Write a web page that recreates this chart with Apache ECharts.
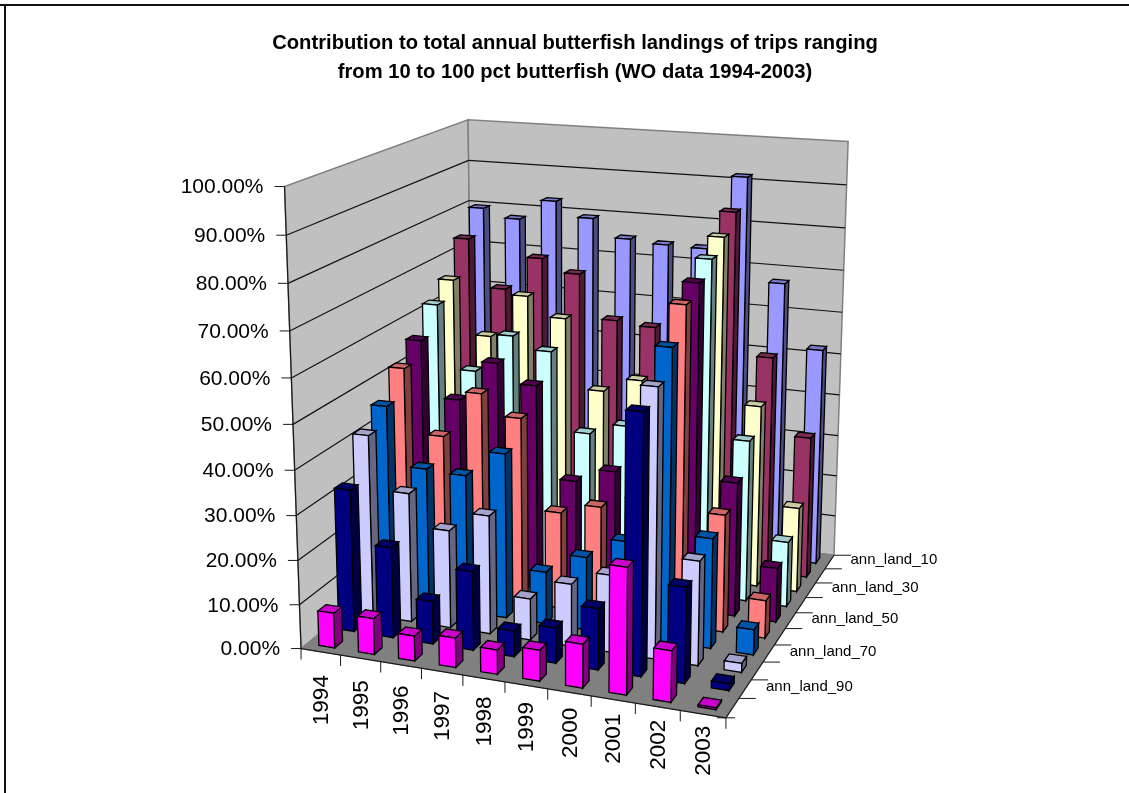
<!DOCTYPE html>
<html><head><meta charset="utf-8">
<style>html,body{margin:0;padding:0;background:#fff}#c{width:1129px;height:793px}</style>
<script src="https://cdn.jsdelivr.net/npm/echarts@6/dist/echarts.min.js"></script>
</head><body><div id="c"></div>
<script>
const years = ['1994','1995','1996','1997','1998','1999','2000','2001','2002','2003'];
const valueTicks = [0,10,20,30,40,50,60,70,80,90,100];
const ann_land_10  = [79.7,77.7,82.7,79.2,74.9,74.2,74,91.5,67.2,52.2];
const ann_land_20  = [74,62.5,70.7,67.7,57.3,56.5,62,85.1,51.9,33.8];
const ann_land_30  = [66,53.2,63.7,59.2,42.7,46.2,50,81.2,43,20];
const ann_land_40  = [62.2,47.2,56.5,53.7,35.2,38,42,78.2,37.7,15.2];
const ann_land_50  = [56,42.9,52.5,48.2,26.8,30.2,35,75,31,12.5];
const ann_land_60  = [51.9,37,48,43.3,22.5,25,28,72.4,26.8,8.6];
const ann_land_70  = [45.7,32.3,31.9,38,12,16.7,21.6,65.5,24.8,5.7];
const ann_land_80  = [41.8,29.7,22.4,27,9.4,14.1,17.4,59.6,23.2,2];
const ann_land_90  = [32.4,20.6,9.7,17.8,5.8,7.9,13.6,57,21,1.5];
const ann_land_100 = [7.9,8.1,5.6,6.6,5.4,6.8,9.6,27.5,11.1,0.4];
const seriesNames = ['ann_land_10','ann_land_20','ann_land_30','ann_land_40','ann_land_50','ann_land_60','ann_land_70','ann_land_80','ann_land_90','ann_land_100'];
const seriesValues = [ann_land_10,ann_land_20,ann_land_30,ann_land_40,ann_land_50,ann_land_60,ann_land_70,ann_land_80,ann_land_90,ann_land_100];
const seriesColors = ['#9999FF','#993366','#FFFFCC','#CCFFFF','#660066','#FF8080','#0066CC','#CCCCFF','#000080','#FF00FF'];
const titleText = 'Contribution to total annual butterfish landings of trips ranging\nfrom 10 to 100 pct butterfish (WO data 1994-2003)';

// camera: fitted from the plot box corners and wall ticks (unit cube: x=years, y=value, z=depth front→back)
const cube = [
  [[0,0,0],[301.5,651]],[[1,0,0],[725,716]],[[1,0,1],[835,557]],[[0,0,1],[472.5,505]],
  [[0,1,0],[285,185]],[[0,1,1],[468,119]],[[1,1,1],[848,141]],
  [[0,.5,0],[293,425]],[[1,.5,1],[840.7,354]],[[0,.8,1],[469,201.7]],[[0,.9,1],[468.5,161.7]]
];
function fitCamera(pts){
  const A=[],b=[];
  pts.forEach(([[X,Y,Z],[u,v]])=>{
    u/=1000;v/=1000;
    A.push([X,Y,Z,1,0,0,0,0,-u*X,-u*Y,-u*Z]);b.push(u);
    A.push([0,0,0,0,X,Y,Z,1,-v*X,-v*Y,-v*Z]);b.push(v);
  });
  const n=11,M=[];
  for(let r=0;r<n;r++){M[r]=[];for(let c=0;c<n;c++){let s=0;A.forEach(row=>s+=row[r]*row[c]);M[r][c]=s;}
    let s=0;A.forEach((row,k)=>s+=row[r]*b[k]);M[r][n]=s;}
  for(let c=0;c<n;c++){let p=c;for(let r=c+1;r<n;r++)if(Math.abs(M[r][c])>Math.abs(M[p][c]))p=r;
    [M[c],M[p]]=[M[p],M[c]];
    for(let r=0;r<n;r++){if(r===c)continue;const f=M[r][c]/M[c][c];for(let k=c;k<=n;k++)M[r][k]-=f*M[c][k];}}
  return M.map((row,i)=>row[n]/row[i]);
}
const P = fitCamera(cube);
function proj(X,Y,Z){
  const w=P[8]*X+P[9]*Y+P[10]*Z+1;
  return [1000*(P[0]*X+P[1]*Y+P[2]*Z+P[3])/w,1000*(P[4]*X+P[5]*Y+P[6]*Z+P[7])/w];
}
function shade(hex,f){
  const n=parseInt(hex.slice(1),16);
  const c=[n>>16,(n>>8)&255,n&255].map(x=>Math.round(x*f));
  return 'rgb('+c.join(',')+')';
}
const poly=(pts,fill,stroke,lw)=>({type:'polygon',shape:{points:pts},style:{fill:fill,stroke:stroke,lineWidth:lw===undefined?1:lw},silent:true});
const seg=(a,b,col,lw)=>({type:'line',shape:{x1:a[0],y1:a[1],x2:b[0],y2:b[1]},style:{stroke:col,lineWidth:lw||1,fill:null},silent:true});
const txt=(x,y,s,size,align,va,rot)=>({type:'text',x:x,y:y,rotation:rot||0,silent:true,
  style:{text:s,x:0,y:0,font:size+'px "Liberation Sans",Arial,sans-serif',fill:'#000',align:align,verticalAlign:va}});

const BAR=0.4, AXIS='#1a1a1a', WALL='#C0C0C0', FLOOR='#808080', EDGE='#808080';

function renderBox(){
  const c=[];
  c.push(poly([proj(0,0,0),proj(0,0,1),proj(0,1,1),proj(0,1,0)],WALL,EDGE,1.5));
  c.push(poly([proj(0,0,1),proj(1,0,1),proj(1,1,1),proj(0,1,1)],WALL,EDGE,1.5));
  c.push(poly([proj(0,0,0),proj(1,0,0),proj(1,0,1),proj(0,0,1)],FLOOR,EDGE,1));
  valueTicks.forEach(t=>{
    if(t===0||t===100) return;
    const y=t/100;
    c.push(seg(proj(0,y,0),proj(0,y,1),'#111',1.2));
    c.push(seg(proj(0,y,1),proj(1,y,1),'#111',1.2));
  });
  c.push(seg(proj(0,0,0),proj(0,1,0),AXIS,1.2));
  c.push(seg(proj(0,0,0),proj(1,0,0),AXIS,1.2));
  c.push(seg(proj(1,0,0),proj(1,0,1),AXIS,1.2));
  return {type:'group',children:c};
}
function renderValueTick(params,api){
  const cs=params.coordSys, p=api.coord([0,api.value(0)]);
  const y=(cs.y+cs.height-p[1])/cs.height, a=proj(0,y,0);
  return {type:'group',children:[
    seg([a[0]-10,a[1]],a,AXIS),
    txt(a[0]-21,a[1]+1,api.value(0).toFixed(2)+'%',21,'right','middle')
  ]};
}
function renderYearTick(params,api){
  const cs=params.coordSys, i=params.dataIndex;
  const p=api.coord([i,0]), u=(p[0]-cs.x)/cs.width, step=api.size([1,0])[0]/cs.width;
  const a=proj(u-step/2,0,0), m=proj(u,0,0), out=[seg(a,[a[0],a[1]+11],AXIS)];
  if(i===years.length-1){const e=proj(1,0,0);out.push(seg(e,[e[0],e[1]+11],AXIS));}
  out.push(txt(m[0]+1,m[1]+24-13*u,years[i],22.5,'right','middle',Math.PI/2));
  return {type:'group',children:out};
}
function renderDepthTick(params,api){
  const j=params.dataIndex, n=seriesNames.length;
  const a=proj(1,0,1-j/n), m=proj(1,0,1-(j+.5)/n), out=[seg(a,[a[0]+17,a[1]],AXIS)];
  if(j===n-1){const e=proj(1,0,0);out.push(seg([e[0]-9,e[1]],[e[0]+9,e[1]],AXIS));}
  if(j%2===0) out.push(txt(m[0]+21,m[1]-2,seriesNames[j],15,'left','middle'));
  return {type:'group',children:out};
}
function makeBars(j){
  const n=seriesNames.length, col=seriesColors[j];
  return function(params,api){
    const cs=params.coordSys;
    const p=api.coord([api.value(0),api.value(1)]);
    const xc=(p[0]-cs.x)/cs.width, y=(cs.y+cs.height-p[1])/cs.height;
    const hw=api.size([1,0])[0]/cs.width*BAR/2;
    const z1=1-(j+.5-BAR/2)/n, z0=1-(j+.5+BAR/2)/n, x0=xc-hw, x1=xc+hw;
    const stroke='#000', lw=1.3;
    return {type:'group',children:[
      poly([proj(x1,0,z0),proj(x1,0,z1),proj(x1,y,z1),proj(x1,y,z0)],shade(col,.5),stroke,lw),
      poly([proj(x0,y,z0),proj(x1,y,z0),proj(x1,y,z1),proj(x0,y,z1)],shade(col,.8),stroke,lw),
      poly([proj(x0,0,z0),proj(x1,0,z0),proj(x1,y,z0),proj(x0,y,z0)],col,stroke,lw)
    ]};
  };
}
const series=[
  {type:'custom',name:'box',z:1,data:[[0]],renderItem:(p,a)=>renderBox(),clip:false,silent:true},
  {type:'custom',name:'valueTicks',z:2,data:valueTicks.map(v=>[v]),encode:{x:-1,y:0},renderItem:renderValueTick,clip:false,silent:true},
  {type:'custom',name:'yearTicks',z:2,data:years.map((y,i)=>[i]),renderItem:renderYearTick,clip:false,silent:true},
  {type:'custom',name:'depthTicks',z:2,data:seriesNames.map((s,i)=>[i]),renderItem:renderDepthTick,clip:false,silent:true}
];
seriesNames.forEach((name,j)=>{
  series.push({type:'custom',name:name,z:10+j,clip:false,silent:true,
    data:seriesValues[j].map((v,i)=>[i,v]),encode:{x:0,y:1},renderItem:makeBars(j)});
});
const chart=echarts.init(document.getElementById('c'),null,{renderer:'canvas'});
chart.setOption({
  animation:false,backgroundColor:'#fff',
  title:{text:titleText,left:570,top:24,textAlign:'center',
    textStyle:{fontFamily:'"Liberation Sans",Arial,sans-serif',fontWeight:'bold',fontSize:20.2,lineHeight:29,color:'#000'}},
  grid:{left:300,top:120,width:530,height:530,containLabel:false},
  xAxis:{type:'category',data:years,show:false},
  yAxis:{type:'value',min:0,max:100,interval:10,show:false},
  graphic:[
    {type:'line',z:100,shape:{x1:0,y1:5,x2:1129,y2:5},style:{stroke:'#111',lineWidth:2}},
    {type:'line',z:100,shape:{x1:5,y1:5,x2:5,y2:793},style:{stroke:'#111',lineWidth:2}}
  ],
  series:series
});
</script></body></html>
